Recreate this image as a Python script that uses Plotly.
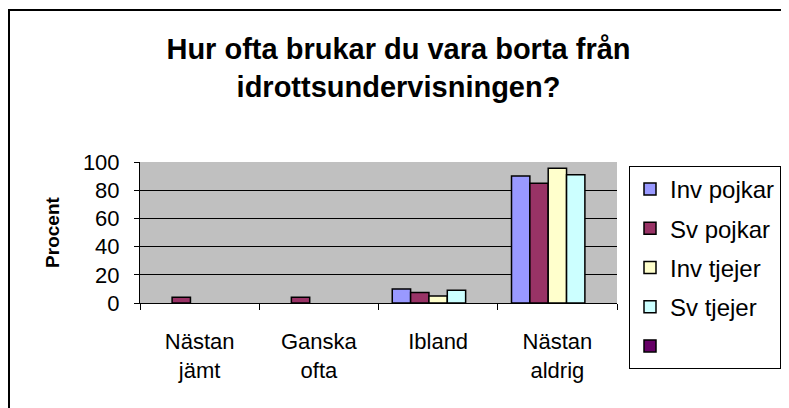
import plotly.graph_objects as go

categories = ["Nästan<br>jämt", "Ganska<br>ofta", "Ibland", "Nästan<br>aldrig"]
inv_pojkar = [None, None, 10, 90]
sv_pojkar = [4, 4, 7.5, 85]
inv_tjejer = [None, None, 5, 95.5]
sv_tjejer = [None, None, 9, 91]
empty_series = [None, None, None, None]

series_names = ["Inv pojkar", "Sv pojkar", "Inv tjejer", "Sv tjejer", " "]
series_values = [inv_pojkar, sv_pojkar, inv_tjejer, sv_tjejer, empty_series]
series_colors = ["#9999FF", "#993366", "#FFFFCC", "#CCFFFF", "#660066"]

# page has an 8px body margin; figure coordinates = page coordinates - 8
W, H = 781, 400
L, R, T, B = 132, 609, 154, 295

fig = go.Figure()
for i, (n, v, c) in enumerate(zip(series_names, series_values, series_colors)):
    fig.add_trace(go.Bar(
        x=categories, y=v, name=n, legendgroup=f"g{i}",
        marker=dict(color=c, line=dict(color="black", width=1.5)),
    ))

FONT = "Liberation Sans, Arial, sans-serif"
fig.update_layout(
    width=W, height=H,
    margin=dict(l=L, r=W - R, t=T, b=H - B, pad=0, autoexpand=False),
    paper_bgcolor="white", plot_bgcolor="#C0C0C0",
    barmode="group", bargap=1.5 / 6.5, bargroupgap=0,
    font=dict(family=FONT, size=22, color="black"),
    title=dict(
        text="<b>Hur ofta brukar du vara borta från<br>idrottsundervisningen?</b>",
        x=0.5, xanchor="center", xref="container",
        y=1 - 51 / H, yanchor="top", yref="container",
        font=dict(family=FONT, size=29, color="black"),
    ),
    legend=dict(
        x=(621 - L) / (R - L), xanchor="left",
        y=(B - 158) / (B - T), yanchor="top",
        bgcolor="white", bordercolor="black", borderwidth=1,
        font=dict(family=FONT, size=24, color="black"),
        traceorder="grouped", tracegroupgap=5,
        itemwidth=30, maxheight=380,
    ),
    xaxis=dict(
        showline=True, linecolor="black", linewidth=1,
        ticks="outside", tickson="boundaries", ticklen=6, tickcolor="black",
        showgrid=False, tickfont=dict(size=22), ticklabelstandoff=19,
    ),
    yaxis=dict(
        range=[0, 100], dtick=20, showline=True, linecolor="black", linewidth=1,
        ticks="outside", ticklen=5, tickcolor="black",
        showgrid=True, gridcolor="black", gridwidth=1,
        zeroline=False, tickfont=dict(size=22), ticklabelstandoff=10,
        title=dict(text="<b>Procent</b>", font=dict(size=19), standoff=18),
    ),
    shapes=[dict(
        type="rect", xref="paper", yref="paper",
        x0=(1 - L) / (R - L), x1=(800 - L) / (R - L),
        y0=(B - 420) / (B - T), y1=(B - 2) / (B - T),
        line=dict(color="black", width=2), fillcolor="rgba(0,0,0,0)", layer="below",
    )],
)

fig.write_html("out.html")
